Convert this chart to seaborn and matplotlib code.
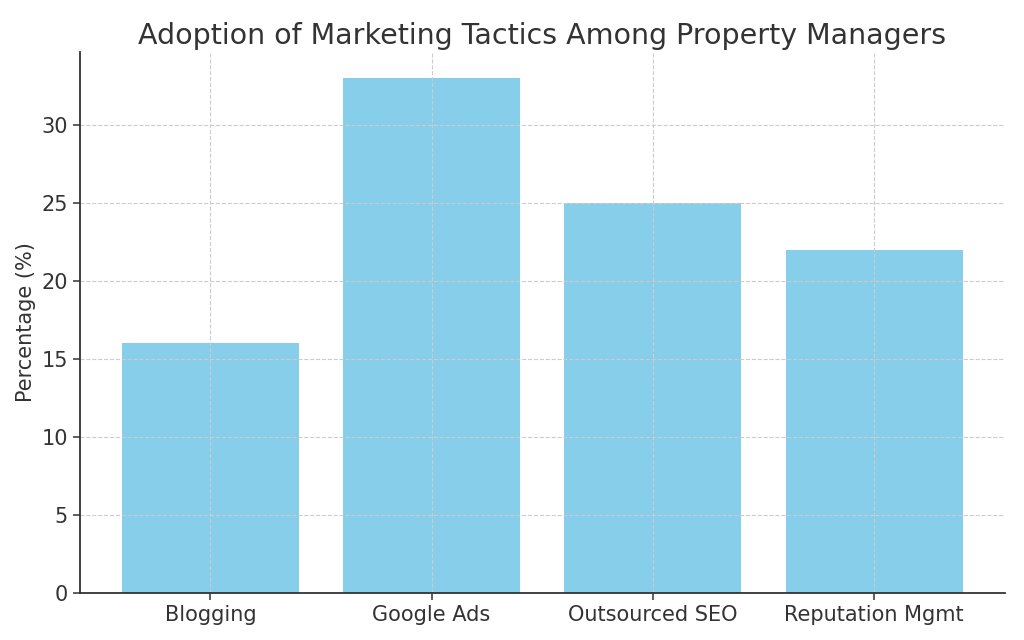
import matplotlib
matplotlib.use("Agg")
import matplotlib.pyplot as plt
import seaborn as sns
import pandas as pd

categories = ["Blogging", "Google Ads", "Outsourced SEO", "Reputation Mgmt"]
values = [16, 33, 25, 22]

sns.set_style("ticks")
plt.rcParams['font.family'] = ['DejaVu Sans']
text_color = "#333333"

df = pd.DataFrame({"Tactic": categories, "Percentage": values})

fig = plt.figure(figsize=(10.24, 6.4), dpi=100)
ax = fig.add_axes([0.078, 0.073, 0.903, 0.846])
sns.barplot(data=df, x="Tactic", y="Percentage", color="#87CEEB", saturation=1,
            width=0.8, ax=ax, linewidth=0, zorder=1)
ax.set_xlim(-0.59, 3.59)
ax.set_ylim(0, 34.65)
ax.set_yticks([0, 5, 10, 15, 20, 25, 30])
ax.set_axisbelow(False)
ax.grid(True, linestyle="--", color="#cccccc", linewidth=0.8, zorder=3)
for s in ["top", "right"]:
    ax.spines[s].set_visible(False)
for s in ["left", "bottom"]:
    ax.spines[s].set_color("#333333")
    ax.spines[s].set_linewidth(1.3)
    ax.spines[s].set_zorder(4)
ax.set_xlabel("")
ax.set_ylabel("Percentage (%)", fontsize=15, color=text_color)
ax.set_title("Adoption of Marketing Tactics Among Property Managers", fontsize=20.5,
             color=text_color, pad=6)
ax.tick_params(axis="both", labelsize=15, labelcolor=text_color, color="#333333",
               width=1.1, length=5)
fig.savefig("out.png", dpi=100)
